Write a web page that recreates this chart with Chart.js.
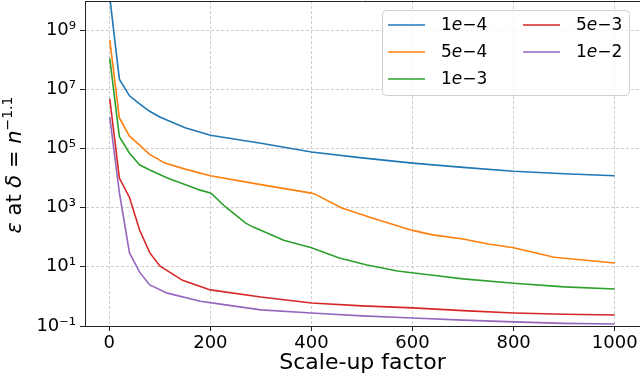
<!DOCTYPE html>
<html><head><meta charset="utf-8">
<script src="https://cdn.jsdelivr.net/npm/chart.js@4/dist/chart.umd.min.js"></script>
<style>html,body{margin:0;padding:0;background:#fff}canvas{display:block}</style>
</head><body>
<canvas id="c" width="640" height="376"></canvas>
<script>
// ---- data ----
const seriesLabels = ['1e−4', '5e−4', '1e−3', '5e−3', '1e−2'];
const seriesColors = ['#1f77b4', '#ff7f0e', '#2ca02c', '#d62728', '#9467bd'];

const xA = [1, 20, 40, 60, 80, 100, 150, 200, 300, 400, 500, 600, 700, 800, 900, 1000];
const yA = [1.3e10, 2.2e7, 6.0e6, 3.2e6, 1.8e6, 1.15e6, 5.0e5, 2.8e5, 1.5e5, 7.6e4, 4.8e4, 3.2e4, 2.3e4, 1.7e4, 1.4e4, 1.2e4];

const xB = [1, 20, 40, 60, 80, 110, 150, 200, 300, 400, 410, 460, 520, 600, 640, 700, 750, 800, 880, 1000];
const yB = [4.6e8, 1.07e6, 2.6e5, 1.3e5, 6.3e4, 3.2e4, 2.0e4, 1.2e4, 6.0e3, 3.1e3, 2.7e3, 980, 450, 170, 120, 87, 59, 44, 21, 13.5];

const xC = [1, 20, 40, 60, 80, 115, 180, 200, 205, 230, 270, 285, 345, 400, 455, 510, 570, 640, 700, 800, 900, 1000];
const yC = [1.1e8, 2.5e5, 6.9e4, 2.8e4, 1.86e4, 1.0e4, 3.9e3, 3.1e3, 2.7e3, 1.05e3, 300, 220, 79, 44, 20, 11.5, 7.2, 5.2, 3.9, 2.8, 2.1, 1.78];

const xD = [1, 20, 40, 60, 80, 100, 145, 200, 300, 400, 500, 600, 700, 800, 900, 1000];
const yD = [4.7e6, 1.0e4, 2.2e3, 175, 30, 10.7, 3.5, 1.66, 0.95, 0.6, 0.48, 0.41, 0.33, 0.275, 0.25, 0.234];

const xE = [1, 20, 40, 60, 80, 115, 180, 220, 300, 400, 500, 600, 700, 800, 900, 1000];
const yE = [1.15e6, 3.2e3, 29.5, 6.6, 2.45, 1.29, 0.69, 0.55, 0.35, 0.275, 0.22, 0.186, 0.158, 0.138, 0.123, 0.117];

const xTicks = [0, 200, 400, 600, 800, 1000];
const yTicks = [1e-1, 1e1, 1e3, 1e5, 1e7, 1e9];
const yTickLabels = ['10⁻¹', '10¹', '10³', '10⁵', '10⁷', '10⁹'];
const xTitle = 'Scale-up factor';

const seriesX = [xA, xB, xC, xD, xE];
const seriesY = [yA, yB, yC, yD, yE];

const FONT = "'DejaVu Sans', sans-serif";

const datasets = seriesLabels.map((lab, i) => ({
  label: lab,
  data: seriesX[i].map((x, j) => ({x: x, y: seriesY[i][j]})),
  borderColor: seriesColors[i],
  backgroundColor: seriesColors[i],
  borderWidth: 1.6,
  pointRadius: 0,
  tension: 0,
  fill: false
}));

const extras = {
  id: 'extras',
  afterDraw(chart) {
    const ctx = chart.ctx;
    const a = chart.chartArea;
    // top spine
    ctx.save();
    ctx.strokeStyle = '#222';
    ctx.lineWidth = 1;
    ctx.beginPath();
    ctx.moveTo(a.left, a.top + 0.5);
    ctx.lineTo(a.right, a.top + 0.5);
    ctx.stroke();
    ctx.restore();

    // y axis title with math styling
    ctx.save();
    ctx.translate(20.5, 165);
    ctx.rotate(-Math.PI / 2);
    const segs = [
      {t: 'ε', it: true}, {t: ' at ', it: false}, {t: 'δ', it: true},
      {t: ' = ', it: false}, {t: 'n', it: true}, {t: '−1.1', sup: true}
    ];
    const fs = 21, sfs = 14;
    const fontOf = s => s.sup ? `${sfs}px ${FONT}` : `${s.it ? 'oblique ' : ''}${fs}px ${FONT}`;
    let total = 0;
    segs.forEach(s => { ctx.font = fontOf(s); s.w = ctx.measureText(s.t).width; total += s.w; });
    let cx = -total / 2;
    ctx.fillStyle = '#000';
    ctx.textBaseline = 'alphabetic';
    ctx.textAlign = 'left';
    segs.forEach(s => {
      ctx.font = fontOf(s);
      ctx.fillText(s.t, cx, s.sup ? -9 : 0);
      cx += s.w;
    });
    ctx.restore();

    // legend
    ctx.save();
    const bx = 382.5, by = 10.5, bw = 247, bh = 85;
    ctx.beginPath();
    ctx.roundRect(bx, by, bw, bh, 4);
    ctx.fillStyle = 'rgba(255,255,255,0.8)';
    ctx.fill();
    ctx.strokeStyle = '#d0d0d0';
    ctx.lineWidth = 1;
    ctx.stroke();
    const lfs = 17;
    chart.data.datasets.forEach((ds, i) => {
      const col = i < 3 ? 0 : 1;
      const row = i < 3 ? i : i - 3;
      const lx0 = col === 0 ? 388 : 523;
      const tx = col === 0 ? 441 : 576;
      const yy = 25 + row * 27;
      ctx.strokeStyle = ds.borderColor;
      ctx.lineWidth = 1.6;
      ctx.beginPath();
      ctx.moveTo(lx0, yy);
      ctx.lineTo(lx0 + 37, yy);
      ctx.stroke();
      const parts = ds.label.split('e');
      const pieces = [{t: parts[0]}, {t: 'e', it: true}, {t: parts[1]}];
      let px = tx;
      ctx.fillStyle = '#000';
      ctx.textBaseline = 'middle';
      pieces.forEach(p => {
        ctx.font = `${p.it ? 'oblique ' : ''}${lfs}px ${FONT}`;
        ctx.fillText(p.t, px, yy + 1);
        px += ctx.measureText(p.t).width;
      });
    });
    ctx.restore();
  }
};

const gridOpts = {color: '#c0c0c0', lineWidth: 0.8, tickColor: '#222',
                  tickBorderDash: [], tickLength: 5, tickWidth: 1};

new Chart(document.getElementById('c'), {
  type: 'line',
  data: {datasets: datasets},
  plugins: [extras],
  options: {
    responsive: false,
    animation: false,
    devicePixelRatio: 1,
    layout: {padding: {top: 1, right: 0, left: 0, bottom: 0}},
    plugins: {legend: {display: false}, tooltip: {enabled: false}},
    scales: {
      x: {
        type: 'linear',
        min: -48,
        max: 1050,
        afterBuildTicks: s => { s.ticks = xTicks.map(v => ({value: v})); },
        afterFit: s => { s.height = 50; s.paddingLeft = 0; s.paddingRight = 0; },
        ticks: {color: '#000', font: {family: FONT, size: 18}, padding: 2, maxRotation: 0,
                callback: v => String(v)},
        grid: gridOpts,
        border: {display: true, color: '#222', width: 1, dash: [3, 2]},
        title: {display: true, text: xTitle, color: '#000', font: {family: FONT, size: 22}, padding: {top: 0, bottom: 0}}
      },
      y: {
        type: 'logarithmic',
        min: 0.1,
        max: 9.6e9,
        afterBuildTicks: s => { s.ticks = yTicks.map(v => ({value: v})); },
        afterFit: s => { s.width = 85; s.paddingTop = 0; s.paddingBottom = 0; },
        ticks: {color: '#000', font: {family: FONT, size: 18}, padding: 4,
                callback: (v) => { const k = yTicks.findIndex(t => Math.abs(Math.log10(t) - Math.log10(v)) < 1e-6); return k >= 0 ? yTickLabels[k] : ''; }},
        grid: gridOpts,
        border: {display: true, color: '#222', width: 1, dash: [3, 2]}
      }
    }
  }
});
</script>
</body></html>
